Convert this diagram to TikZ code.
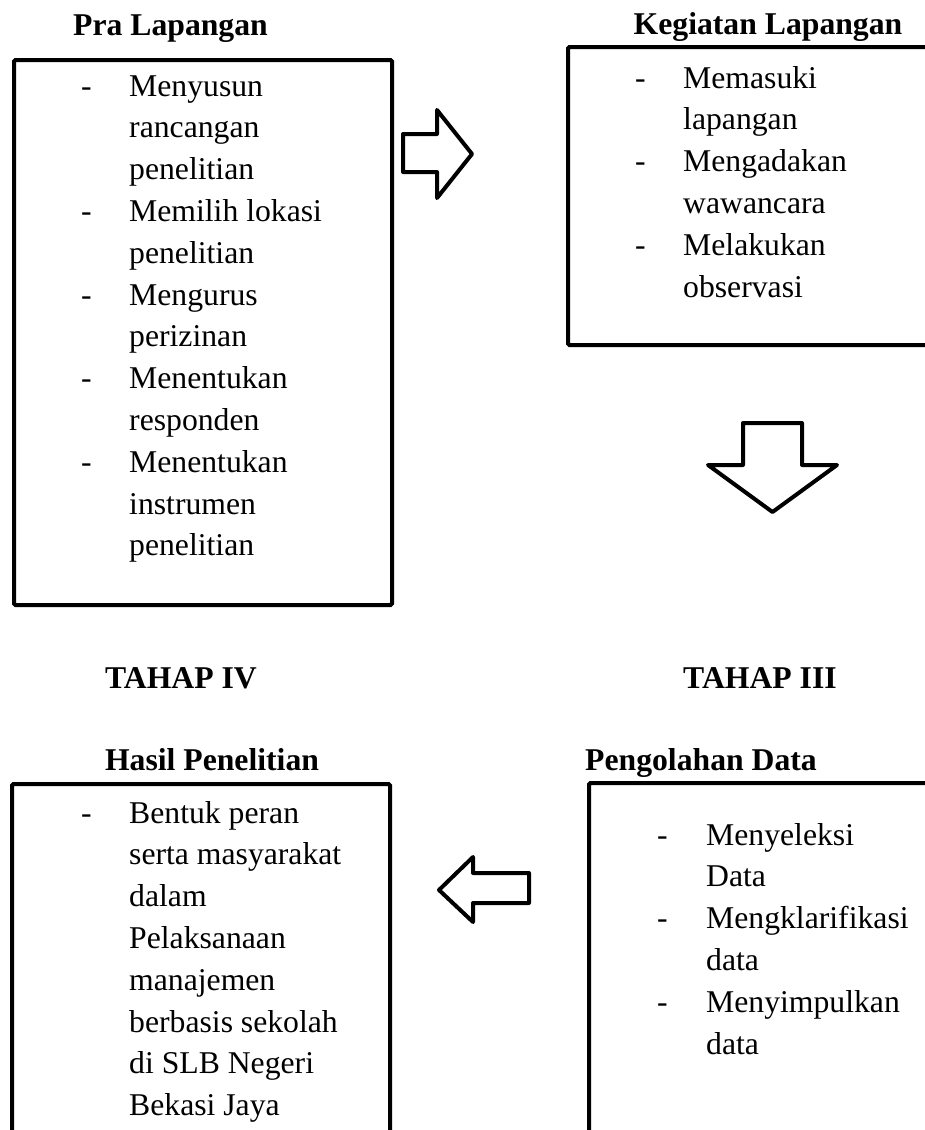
\documentclass[tikz,border=0pt]{standalone}
\usepackage{fontspec}
\setmainfont{Liberation Serif}
\begin{document}
\begin{tikzpicture}[x=1pt,y=-1pt,
  frame/.style={draw, line width=4pt, rounded corners=1.5pt, rectangle, inner sep=0pt, anchor=north west},
  title/.style={font=\fontsize{31.7}{41.8}\selectfont\bfseries, anchor=base, inner sep=0pt},
  list/.style={font=\fontsize{31.7}{41.8}\selectfont, anchor=base west, inner sep=0pt},
  blockarrow/.style={draw, line width=4pt, line join=round, fill=white}]
\useasboundingbox (0,0) rectangle (925,1130);
\clip (0,0) rectangle (925,1130);

% titles
\node[title] (h1) at (170.5,35) {Pra Lapangan};
\node[title] (h2) at (768,34) {Kegiatan Lapangan};
\node[title] (s4) at (181,688) {TAHAP IV};
\node[title] (s3) at (760,688) {TAHAP III};
\node[title] (h4) at (212,770) {Hasil Penelitian};
\node[title] (h3) at (701,770) {Pengolahan Data};

% frames
\node[frame, minimum width=378pt, minimum height=545pt] (b1) at (12,58) {};
\node[frame, minimum width=400pt, minimum height=298pt] (b2) at (566,45) {};
\node[frame, minimum width=378pt, minimum height=420pt] (b4) at (10,782) {};
\node[frame, minimum width=400pt, minimum height=420pt] (b3) at (587,781) {};

% lists
\node[list] (t1) at (81,96) {\begin{tabular}[t]{@{}p{48pt}@{}l@{}}
-&Menyusun\\ &rancangan\\ &penelitian\\
-&Memilih lokasi\\ &penelitian\\
-&Mengurus\\ &perizinan\\
-&Menentukan\\ &responden\\
-&Menentukan\\ &instrumen\\ &penelitian\end{tabular}};

\node[list] (t2) at (635,88) {\begin{tabular}[t]{@{}p{48pt}@{}l@{}}
-&Memasuki\\ &lapangan\\
-&Mengadakan\\ &wawancara\\
-&Melakukan\\ &observasi\end{tabular}};

\node[list] (t4) at (81,823) {\begin{tabular}[t]{@{}p{48pt}@{}l@{}}
-&Bentuk peran\\ &serta masyarakat\\ &dalam\\ &Pelaksanaan\\ &manajemen\\ &berbasis sekolah\\ &di SLB Negeri\\ &Bekasi Jaya\end{tabular}};

\node[list] (t3) at (657,845) {\begin{tabular}[t]{@{}p{49pt}@{}l@{}}
-&Menyeleksi\\ &Data\\
-&Mengklarifikasi\\ &data\\
-&Menyimpulkan\\ &data\end{tabular}};

% block arrows
\draw[blockarrow] (403,134) -- (437,134) -- (437,110) -- (472,154) -- (437,198) -- (437,172) -- (403,172) -- cycle;
\draw[blockarrow] (743,423) -- (802,423) -- (802,465) -- (837,465) -- (772.5,512) -- (708,465) -- (743,465) -- cycle;
\draw[blockarrow] (529,873) -- (473,873) -- (473,857) -- (439,890) -- (473,922) -- (473,903) -- (529,903) -- cycle;
\end{tikzpicture}
\end{document}
